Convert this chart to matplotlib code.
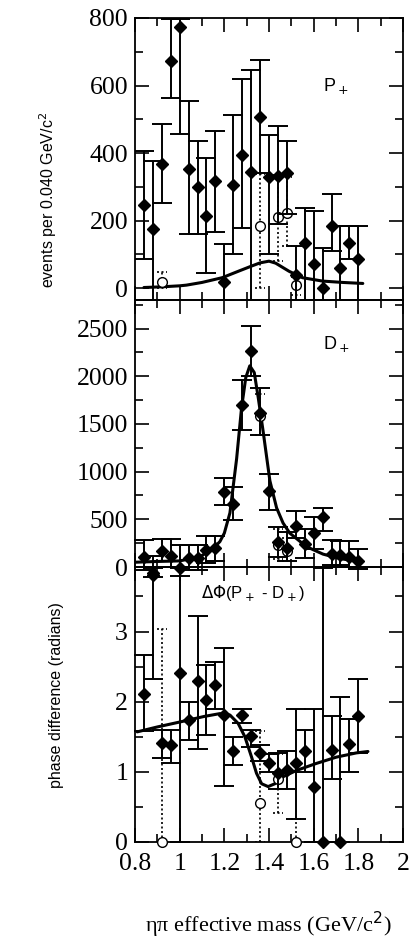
import matplotlib
matplotlib.use("Agg")
import matplotlib.pyplot as plt
from matplotlib.ticker import MultipleLocator

# ---------------- data ----------------
mass = [0.84, 0.88, 0.92, 0.96, 1.00, 1.04, 1.08, 1.12, 1.16, 1.20, 1.24, 1.28, 1.32,
        1.36, 1.40, 1.44, 1.48, 1.52, 1.56, 1.60, 1.64, 1.68, 1.72, 1.76, 1.80]

# P+ wave intensity (events / 0.040 GeV/c^2)
p_val = [247, 175, 368, 674, 774, 354, 299, 213, 317, 17, 305, 395, 344,
         508, 330, 333, 340, 38, 134, 72, 2, 184, 60, 133, 87]
p_lo = [87, -35, 252, 563, 456, 160, 160, 44, 165, -35, 102, 177, -35,
        340, 100, 190, 220, -35, -35, -35, -35, 110, -35, 87, -35]
p_hi = [407, 378, 485, 797, 797, 553, 436, 385, 466, 131, 512, 618, 647,
        676, 453, 480, 436, 125, 238, 228, 120, 280, 184, 184, 183]

# D+ wave intensity
d_val = [110, -60, 170, 120, -10, 90, 95, 180, 195, 790, 660, 1700, 2270,
         1620, 800, 260, 200, 430, 240, 355, 520, 135, 125, 110, 60]
d_lo = [-30, -110, 60, 0, -90, -30, -30, 40, 60, 650, 490, 1436, 2000,
        1380, 600, 100, 60, 300, 90, 190, 380, 20, 20, 0, -20]
d_hi = [280, 120, 290, 290, 230, 230, 230, 320, 320, 935, 840, 1957, 2525,
        1880, 980, 420, 370, 590, 400, 520, 620, 280, 270, 270, 190]

# phase difference (radians)
ph_val = [2.11, 3.81, 1.41, 1.38, 2.41, 1.74, 2.29, 2.02, 2.24, 1.81, 1.30, 1.81, 1.51,
          1.27, 1.12, 0.98, 1.03, 1.13, 1.30, 0.79, 0.00, 1.31, 0.00, 1.40, 1.79]
ph_lo = [1.58, 2.33, 1.20, 1.12, 0.00, 1.45, 1.32, 1.52, 1.90, 0.80, 1.10, 1.70, 1.35,
         1.16, 1.00, 0.75, 0.75, 0.33, 1.00, 0.00, 0.00, 0.90, 0.00, 1.00, 1.27]
ph_hi = [2.66, 3.90, 1.60, 1.60, 3.90, 2.00, 3.22, 2.52, 2.57, 2.76, 1.50, 1.90, 1.60,
         1.38, 1.25, 1.27, 1.30, 1.90, 1.60, 1.90, 3.90, 1.80, 2.07, 1.76, 2.33]

# second (ambiguous) solution, open circles
p2_mass = [0.92, 1.36, 1.44, 1.48, 1.52]
p2_val = [17, 183, 212, 222, 9]
p2_lo = [0, 0, 81, 125, -20]
p2_hi = [47, 337, 334, 328, 32]

d2_mass = [1.36, 1.44, 1.48]
d2_val = [1580, 230, 170]
d2_lo = [1380, 80, 60]
d2_hi = [1810, 400, 300]

ph2_mass = [0.92, 1.36, 1.44, 1.52]
ph2_val = [0.00, 0.56, 0.90, 0.00]
ph2_lo = [0.00, 0.00, 0.41, 0.00]
ph2_hi = [3.03, 1.58, 1.25, 0.33]

# fit curves
p_fit_m = [0.84, 0.92, 1.00, 1.03, 1.10, 1.19, 1.27, 1.32, 1.36, 1.40, 1.43, 1.49,
           1.55, 1.64, 1.73, 1.82]
p_fit_v = [2, 4, 7, 9, 17, 31, 52, 65, 75, 80, 74, 50, 31, 21, 17, 14]

d_fit_m = [0.80, 0.90, 1.00, 1.09, 1.15, 1.18, 1.20, 1.225, 1.255, 1.277, 1.296,
           1.314, 1.334, 1.352, 1.374, 1.404, 1.434, 1.463, 1.493, 1.568, 1.642,
           1.717, 1.81]
d_fit_v = [50, 58, 64, 106, 195, 266, 355, 567, 1135, 1667, 1986, 2110, 2039,
           1773, 1418, 904, 620, 461, 355, 213, 135, 89, 53]

ph_fit_m = [0.81, 0.90, 1.00, 1.11, 1.18, 1.225, 1.262, 1.292, 1.322, 1.344, 1.367,
            1.396, 1.426, 1.463, 1.523, 1.612, 1.702, 1.791, 1.843]
ph_fit_v = [1.57, 1.64, 1.71, 1.79, 1.83, 1.81, 1.69, 1.50, 1.21, 0.98, 0.83,
            0.79, 0.83, 0.93, 1.02, 1.12, 1.21, 1.27, 1.29]

x_ticks = [0.8, 1.0, 1.2, 1.4, 1.6, 1.8, 2.0]
x_ticklabels = ["0.8", "1", "1.2", "1.4", "1.6", "1.8", "2"]

# ---------------- figure ----------------
W, H = 411, 940
fig = plt.figure(figsize=(W / 100, H / 100), dpi=100)
fig.patch.set_facecolor("white")

serif = ["Liberation Serif", "DejaVu Serif"]
sans = ["Liberation Sans", "DejaVu Sans"]
left, right = 135, 403


def make_ax(top, bottom):
    return fig.add_axes([left / W, 1 - bottom / H, (right - left) / W, (bottom - top) / H])


ax1 = make_ax(18, 300)
ax2 = make_ax(300, 567)
ax3 = make_ax(567, 842)


def errs(val, lo, hi):
    return [[v - l for v, l in zip(val, lo)], [h - v for v, h in zip(val, hi)]]


def draw(ax, val, lo, hi, m2, v2, lo2, hi2, fm, fv, clip):
    ax.plot(fm, fv, color="black", lw=2.2, zorder=3, solid_capstyle="round")
    # second solution: dotted bars, dotted caps, open circles
    cw = 0.022
    ax.vlines(m2, lo2, hi2, colors="black", linestyles=(0, (1.2, 1.5)), lw=1.2, zorder=4)
    ax.hlines(hi2, [m - cw for m in m2], [m + cw for m in m2], colors="black",
              linestyles=(0, (1.2, 1.5)), lw=1.2, zorder=4)
    ax.hlines(lo2, [m - cw for m in m2], [m + cw for m in m2], colors="black",
              linestyles=(0, (1.2, 1.5)), lw=1.2, zorder=4)
    circ = ax.plot(m2, v2, "o", ms=7, mfc="white", mec="black", mew=1.0, ls="none",
                   zorder=4)[0]
    e2 = ax.errorbar(mass, val, yerr=errs(val, lo, hi), fmt="D", ms=6.5, mfc="black",
                     mec="black", ecolor="black", elinewidth=1.4, capsize=7,
                     capthick=1.4, ls="none", zorder=5)
    if not clip:
        for art in [e2[0]] + list(e2[1]) + list(e2[2]) + [circ]:
            art.set_clip_on(False)


draw(ax1, p_val, p_lo, p_hi, p2_mass, p2_val, p2_lo, p2_hi, p_fit_m, p_fit_v, True)
draw(ax2, d_val, d_lo, d_hi, d2_mass, d2_val, d2_lo, d2_hi, d_fit_m, d_fit_v, False)
draw(ax3, ph_val, ph_lo, ph_hi, ph2_mass, ph2_val, ph2_lo, ph2_hi, ph_fit_m, ph_fit_v, False)

ax1.set_ylim(-35, 800)
ax2.set_ylim(0, 2800)
ax3.set_ylim(0, 3.92)

for ax, maj, mnr in [(ax1, 200, 100), (ax2, 500, 250), (ax3, 1, 0.5)]:
    ax.set_xlim(0.8, 2.0)
    ax.set_xticks(x_ticks)
    ax.xaxis.set_minor_locator(MultipleLocator(0.1))
    ax.yaxis.set_major_locator(MultipleLocator(maj))
    ax.yaxis.set_minor_locator(MultipleLocator(mnr))
    ax.tick_params(which="both", direction="in", top=True, right=True, width=1.2,
                   labelsize=18.5, pad=5)
    ax.tick_params(which="major", length=10)
    ax.tick_params(which="minor", length=6)
    for s in ax.spines.values():
        s.set_linewidth(1.3)
    ax.set_facecolor("none")

ax1.set_xticklabels([])
ax2.set_xticklabels([])
ax3.set_xticklabels(x_ticklabels, family=serif)
ax3.tick_params(axis="x", pad=8)
ax1.set_yticks([0, 200, 400, 600, 800])
ax2.set_yticks([0, 500, 1000, 1500, 2000, 2500])
ax3.set_yticks([0, 1, 2, 3])
for ax in (ax1, ax2, ax3):
    for lab in ax.get_yticklabels():
        lab.set_family(serif)

# panel labels
ax1.text(1.64, 600, r"P$_+$", fontsize=13, family=sans, ha="left", va="center")
ax2.text(1.64, 2340, r"D$_+$", fontsize=13, family=sans, ha="left", va="center")
ax3.text(1.33, 3.55, r"$\Delta\Phi$(P$_+$ - D$_+$)", fontsize=12, family=sans,
         ha="center", va="center")

# axis labels
fig.text(48 / W, 1 - 200 / H, r"events per 0.040 GeV/c$^2$", rotation=90,
         ha="center", va="center", fontsize=11.5, family=sans)
fig.text(56 / W, 1 - 695 / H, "phase difference (radians)", rotation=90,
         ha="center", va="center", fontsize=11.5, family=sans)
fig.text(268 / W, 1 - 925 / H, r"ηπ effective mass (GeV/c$^2$)", ha="center",
         va="center", fontsize=16, family=serif)

fig.savefig("out.png", dpi=100, facecolor="white")
